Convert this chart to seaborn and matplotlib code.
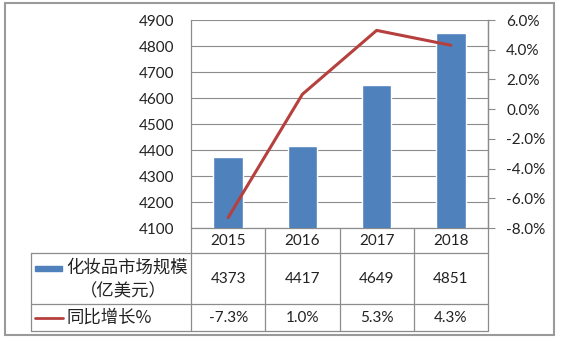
import numpy as np
import matplotlib
matplotlib.use("Agg")
import matplotlib.pyplot as plt
from matplotlib.lines import Line2D
from matplotlib.patches import Rectangle
import matplotlib.transforms as mtransforms
import seaborn as sns

years = ['2015', '2016', '2017', '2018']
market = [4373, 4417, 4649, 4851]
growth = [-7.3, 1.0, 5.3, 4.3]
left_ticks = [4100, 4200, 4300, 4400, 4500, 4600, 4700, 4800, 4900]
right_ticks = [-8, -6, -4, -2, 0, 2, 4, 6]
bar_label = ['化妆品市场规模', '（亿美元）']
line_label = '同比增长%'

sns.set_theme(style='white')
plt.rcParams['font.family'] = ['Lato', 'Noto Sans CJK SC', 'DejaVu Sans']
CJK = ['Noto Sans CJK SC', 'DejaVu Sans']

W, H = 564, 341
fig = plt.figure(figsize=(W / 100, H / 100), dpi=100)
BLUE = '#4F81BD'
RED = '#B5403D'
GRID = '#8C8C8C'
TXT = '#222222'
FS = 11

L, R, T, B = 191, 488, 20, 228
ax = fig.add_axes([L / W, 1 - B / H, (R - L) / W, (B - T) / H])

sns.barplot(x=years, y=market, color=BLUE, width=0.4, saturation=1, ax=ax, zorder=3)
ax.set_xlim(-0.5, len(years) - 0.5)
ax.set_ylim(left_ticks[0], left_ticks[-1])
ax.set_yticks(left_ticks)
ax.set_yticklabels([str(v) for v in left_ticks], fontsize=FS, color=TXT)
ax.tick_params(axis='y', length=0, pad=12)
ax.set_xticks([])
ax.set_xlabel('')
ax.set_ylabel('')
ax.yaxis.grid(True, color=GRID, lw=0.8, zorder=0)
ax.set_axisbelow(True)
ax.spines['top'].set_visible(False)
for s in ['left', 'right', 'bottom']:
    ax.spines[s].set_color(GRID)
    ax.spines[s].set_linewidth(0.9)

ax2 = ax.twinx()
sns.lineplot(x=np.arange(len(years)), y=growth, color=RED, lw=2.2, ax=ax2, zorder=4)
ax2.set_xlim(-0.5, len(years) - 0.5)
ax2.set_ylim(right_ticks[0], right_ticks[-1])
ax2.set_yticks(right_ticks)
ax2.set_yticklabels([f'{v:.1f}%' for v in right_ticks], fontsize=FS, color=TXT)
ax2.tick_params(axis='y', length=5, width=0.8, color=GRID, pad=8, right=True)
ax2.set_ylabel('')
ax2.grid(False)
for s in ['top', 'left', 'bottom']:
    ax2.spines[s].set_visible(False)
ax2.spines['right'].set_color(GRID)
ax2.spines['right'].set_linewidth(0.9)

# table
blend = mtransforms.blended_transform_factory(ax.transData, fig.transFigure)
def fy(y):
    return 1 - y / H
def fx(x):
    return x / W

LC = '#8C8C8C'
row_year, row_val, row_g, row_end = 228, 253, 304, 331
tab_left = 31
n = len(years)
for k in range(n + 1):
    fig.add_artist(Line2D([k - 0.5, k - 0.5], [fy(row_year), fy(row_end)],
                          transform=blend, color=LC, lw=0.9))
for yy in [row_val, row_g, row_end]:
    fig.add_artist(Line2D([fx(tab_left), fx(R)], [fy(yy), fy(yy)],
                          transform=fig.transFigure, color=LC, lw=0.9))
fig.add_artist(Line2D([fx(tab_left), fx(tab_left)], [fy(row_val), fy(row_end)],
                      transform=fig.transFigure, color=LC, lw=0.9))

for i in range(n):
    fig.text(i, fy(241), years[i], transform=blend, ha='center', va='center', fontsize=FS, color=TXT)
    fig.text(i, fy(279), str(market[i]), transform=blend, ha='center', va='center', fontsize=FS, color=TXT)
    fig.text(i, fy(318), f'{growth[i]:.1f}%', transform=blend, ha='center', va='center', fontsize=FS, color=TXT)

# legend keys
fig.add_artist(Rectangle((fx(35), fy(271)), fx(62) - fx(35), fy(266) - fy(271),
                         transform=fig.transFigure, color=BLUE))
fig.text(fx(66), fy(268), bar_label[0], ha='left', va='center', fontsize=12.5, color=TXT,
         family=CJK, fontweight='light')
fig.text(fx(123), fy(291), bar_label[1], ha='center', va='center', fontsize=12.5, color=TXT,
         family=CJK, fontweight='light')
fig.add_artist(Line2D([fx(35), fx(63)], [fy(318), fy(318)], transform=fig.transFigure, color=RED, lw=2))
fig.text(fx(66), fy(318), line_label, ha='left', va='center', fontsize=12.5, color=TXT,
         family=CJK, fontweight='light')

# outer border
fig.add_artist(Rectangle((fx(5), fy(335)), fx(554) - fx(5), fy(3) - fy(335),
                         transform=fig.transFigure, fill=False, edgecolor='#9A9A9A', lw=1.5))

fig.savefig('out.png', dpi=100)
